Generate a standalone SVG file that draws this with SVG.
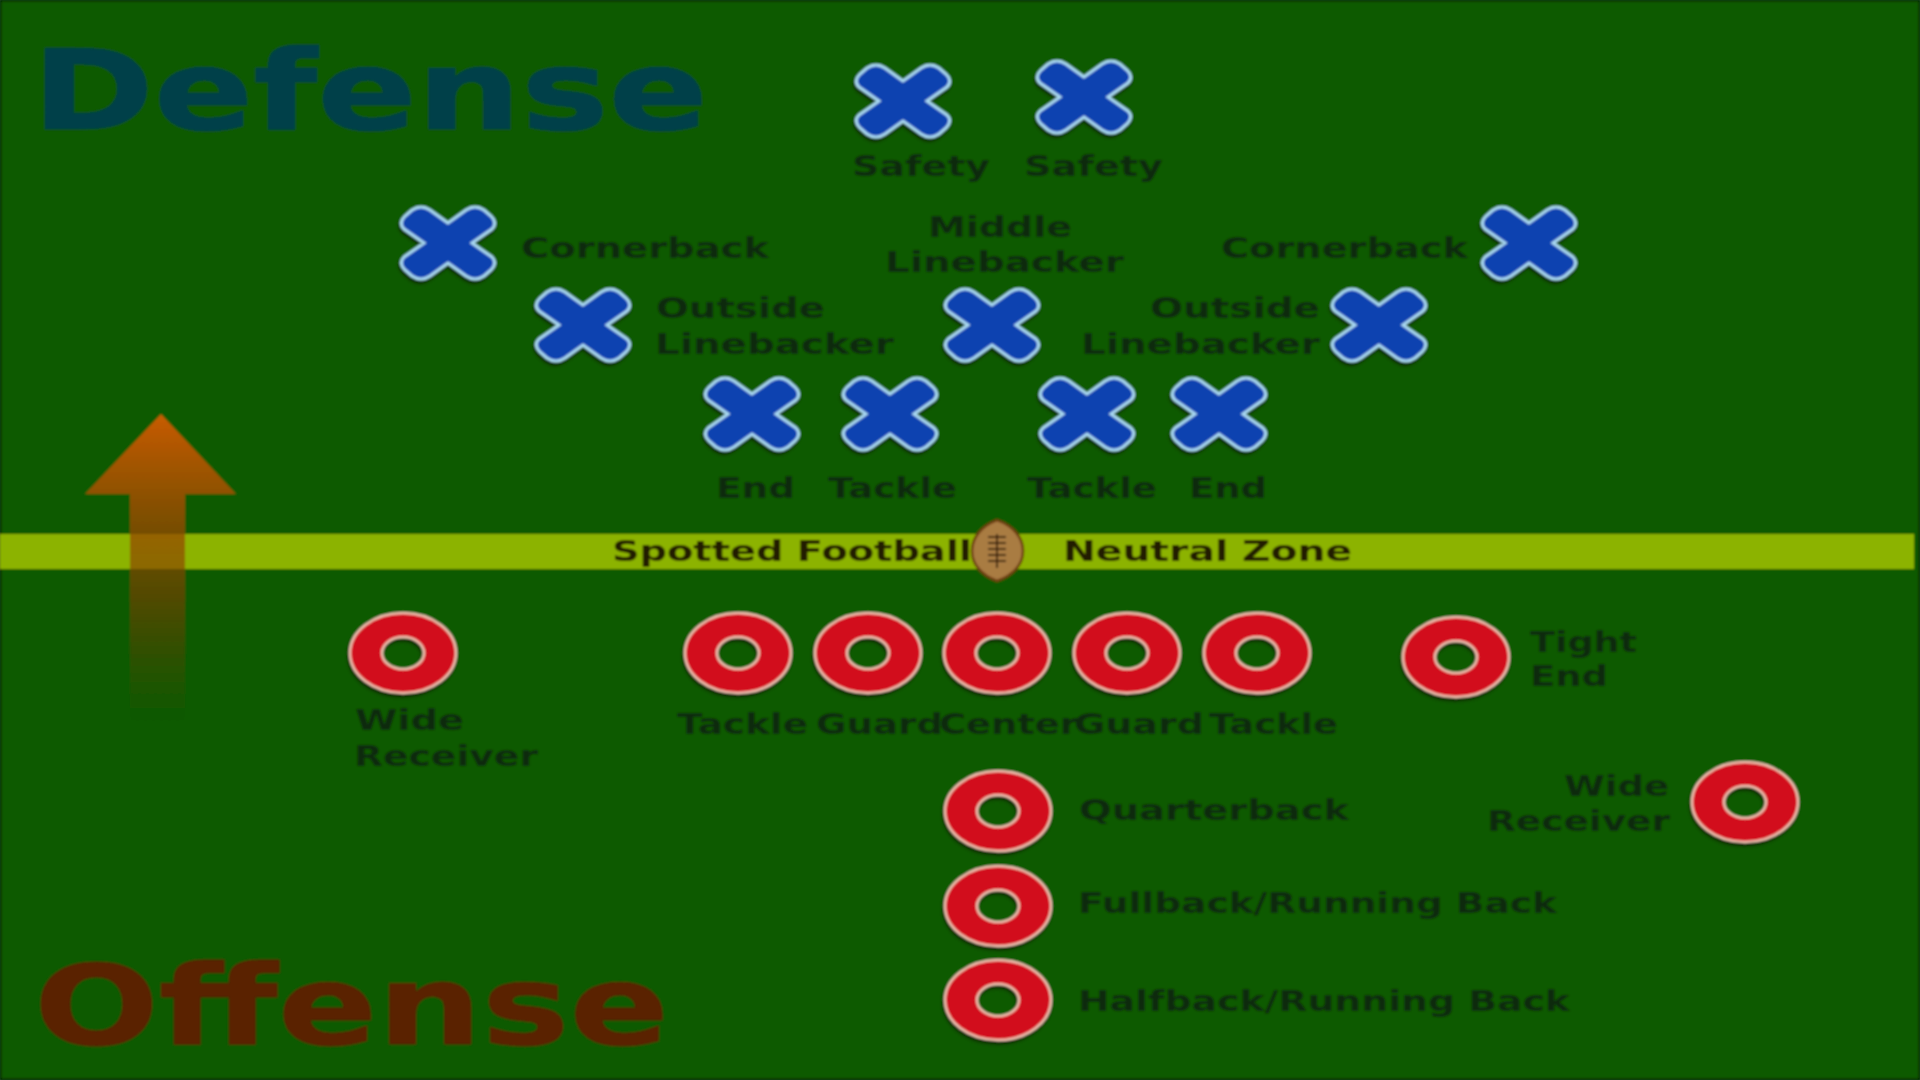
<svg xmlns="http://www.w3.org/2000/svg" xmlns:xlink="http://www.w3.org/1999/xlink" width="1920" height="1080" viewBox="0 0 1920 1080">
<defs>
<linearGradient id="ag" x1="0" y1="0" x2="0" y2="1"><stop offset="0" stop-color="#c85c00"/><stop offset="0.25" stop-color="#a85000" stop-opacity="0.85"/><stop offset="0.6" stop-color="#804000" stop-opacity="0.6"/><stop offset="1" stop-color="#703800" stop-opacity="0"/></linearGradient>
<filter id="soft" x="-2%" y="-2%" width="104%" height="104%"><feGaussianBlur stdDeviation="0.8"/></filter>
<filter id="sh" x="-20%" y="-20%" width="140%" height="140%"><feGaussianBlur in="SourceAlpha" stdDeviation="1.6"/><feOffset dx="-1" dy="3"/><feColorMatrix values="0 0 0 0 0 0 0 0 0 0 0 0 0 0 0 0 0 0 0.6 0"/><feMerge><feMergeNode/><feMergeNode in="SourceGraphic"/></feMerge></filter>
<path id="cross" filter="url(#sh)" d="M0,-20 L-18,-33 Q-27,-39 -36,-33 L-43,-27 Q-50,-20 -44,-14 L-24,0 L-44,14 Q-50,20 -43,27 L-36,33 Q-27,39 -18,33 L0,20 L18,33 Q27,39 36,33 L43,27 Q50,20 44,14 L24,0 L44,-14 Q50,-20 43,-27 L36,-33 Q27,-39 18,-33 Z"/>
<path id="ring" filter="url(#sh)" fill-rule="evenodd" d="M-53,0 A53,40 0 1 1 53,0 A53,40 0 1 1 -53,0 Z M-21,0 A21,16 0 1 0 21,0 A21,16 0 1 0 -21,0 Z"/>
</defs>
<style>
.x{fill:#0e42b0;stroke:#a9d8f2;stroke-width:3}
.o{fill:#d20f1c;stroke:#f0c0b0;stroke-width:2.5}
text{font-family:"DejaVu Sans","Liberation Sans",sans-serif;font-weight:700;font-size:28px;fill:#0a2c0a}
.s{fill:#241c04}
.big{font-size:110px}
</style>
<g filter="url(#soft)">
<rect id="field" x="0" y="0" width="1920" height="1080" fill="#0b5a00" stroke="#052a00" stroke-width="3"/>
<rect id="neutral-zone" x="0" y="534" width="1914" height="35" fill="#8cb300"/>
<g id="titles">
<text class="big" x="32" y="129" textLength="676" lengthAdjust="spacingAndGlyphs" style="fill:#063f4a;stroke:#063f4a;stroke-width:1">Defense</text>
<text class="big" x="34" y="1044" textLength="635" lengthAdjust="spacingAndGlyphs" style="fill:#5a2000;stroke:#5a2000;stroke-width:1">Offense</text>
</g>
<path id="direction-arrow" d="M161,414 L236,494 L185,494 L185,722 L130,722 L130,494 L85,494 Z" fill="url(#ag)"/>
<g id="connectors"></g>
<g id="safety-1"><use href="#cross" class="x" x="903" y="101"/><text x="852" y="176" textLength="138" lengthAdjust="spacingAndGlyphs">Safety</text></g>
<g id="safety-2"><use href="#cross" class="x" x="1084" y="97"/><text x="1024" y="176" textLength="139" lengthAdjust="spacingAndGlyphs">Safety</text></g>
<g id="cornerback-1"><use href="#cross" class="x" x="448" y="243"/><text x="521" y="258" textLength="248" lengthAdjust="spacingAndGlyphs">Cornerback</text></g>
<g id="middle-linebacker"><use href="#cross" class="x" x="992" y="325"/><text x="928" y="237" textLength="144" lengthAdjust="spacingAndGlyphs">Middle</text><text x="885" y="272" textLength="239" lengthAdjust="spacingAndGlyphs">Linebacker</text></g>
<g id="cornerback-2"><use href="#cross" class="x" x="1529" y="243"/><text x="1221" y="258" textLength="247" lengthAdjust="spacingAndGlyphs">Cornerback</text></g>
<g id="outside-linebacker-1"><use href="#cross" class="x" x="583" y="325"/><text x="656" y="318" textLength="169" lengthAdjust="spacingAndGlyphs">Outside</text><text x="655" y="354" textLength="239" lengthAdjust="spacingAndGlyphs">Linebacker</text></g>
<g id="outside-linebacker-2"><use href="#cross" class="x" x="1379" y="325"/><text x="1150" y="318" textLength="170" lengthAdjust="spacingAndGlyphs">Outside</text><text x="1081" y="354" textLength="239" lengthAdjust="spacingAndGlyphs">Linebacker</text></g>
<g id="def-end-1"><use href="#cross" class="x" x="752" y="414"/><text x="716" y="498" textLength="79" lengthAdjust="spacingAndGlyphs">End</text></g>
<g id="def-tackle-1"><use href="#cross" class="x" x="890" y="414"/><text x="828" y="498" textLength="129" lengthAdjust="spacingAndGlyphs">Tackle</text></g>
<g id="def-tackle-2"><use href="#cross" class="x" x="1087" y="414"/><text x="1027" y="498" textLength="130" lengthAdjust="spacingAndGlyphs">Tackle</text></g>
<g id="def-end-2"><use href="#cross" class="x" x="1219" y="414"/><text x="1189" y="498" textLength="78" lengthAdjust="spacingAndGlyphs">End</text></g>
<text class="s" x="612" y="561" textLength="360" lengthAdjust="spacingAndGlyphs">Spotted Football</text>
<text class="s" x="1063" y="561" textLength="289" lengthAdjust="spacingAndGlyphs">Neutral Zone</text>
<g id="football"><path d="M997,520 C1014,526 1023,538 1023,551 C1023,564 1014,575 997,581 C981,575 972,564 972,551 C972,538 981,526 997,520 Z" fill="#a97c42" stroke="#6e3c10" stroke-width="2.5"/><path d="M997,534 V568 M988,537 H1006 M988,543 H1006 M988,549 H1006 M988,555 H1006 M988,561 H1006" fill="none" stroke="#3c2410" stroke-width="2"/></g>
<g id="wide-receiver-1"><use href="#ring" class="o" x="403" y="653"/><text x="355" y="730" textLength="109" lengthAdjust="spacingAndGlyphs">Wide</text><text x="354" y="766" textLength="184" lengthAdjust="spacingAndGlyphs">Receiver</text></g>
<g id="off-tackle-1"><use href="#ring" class="o" x="738" y="653"/><text x="677" y="734" textLength="131" lengthAdjust="spacingAndGlyphs">Tackle</text></g>
<g id="guard-1"><use href="#ring" class="o" x="868" y="653"/><text x="816" y="734" textLength="127" lengthAdjust="spacingAndGlyphs">Guard</text></g>
<g id="center"><use href="#ring" class="o" x="997" y="653"/><text x="939" y="734" textLength="139" lengthAdjust="spacingAndGlyphs">Center</text></g>
<g id="guard-2"><use href="#ring" class="o" x="1127" y="653"/><text x="1074" y="734" textLength="130" lengthAdjust="spacingAndGlyphs">Guard</text></g>
<g id="off-tackle-2"><use href="#ring" class="o" x="1257" y="653"/><text x="1209" y="734" textLength="129" lengthAdjust="spacingAndGlyphs">Tackle</text></g>
<g id="tight-end"><use href="#ring" class="o" x="1456" y="657"/><text x="1530" y="652" textLength="107" lengthAdjust="spacingAndGlyphs">Tight</text><text x="1530" y="686" textLength="78" lengthAdjust="spacingAndGlyphs">End</text></g>
<g id="quarterback"><use href="#ring" class="o" x="998" y="811"/><text x="1079" y="820" textLength="270" lengthAdjust="spacingAndGlyphs">Quarterback</text></g>
<g id="wide-receiver-2"><use href="#ring" class="o" x="1745" y="802"/><text x="1564" y="796" textLength="105" lengthAdjust="spacingAndGlyphs">Wide</text><text x="1487" y="831" textLength="183" lengthAdjust="spacingAndGlyphs">Receiver</text></g>
<g id="fullback"><use href="#ring" class="o" x="998" y="906"/><text x="1078" y="913" textLength="479" lengthAdjust="spacingAndGlyphs">Fullback/Running Back</text></g>
<g id="halfback"><use href="#ring" class="o" x="998" y="1000"/><text x="1078" y="1011" textLength="492" lengthAdjust="spacingAndGlyphs">Halfback/Running Back</text></g>
</g>
</svg>
